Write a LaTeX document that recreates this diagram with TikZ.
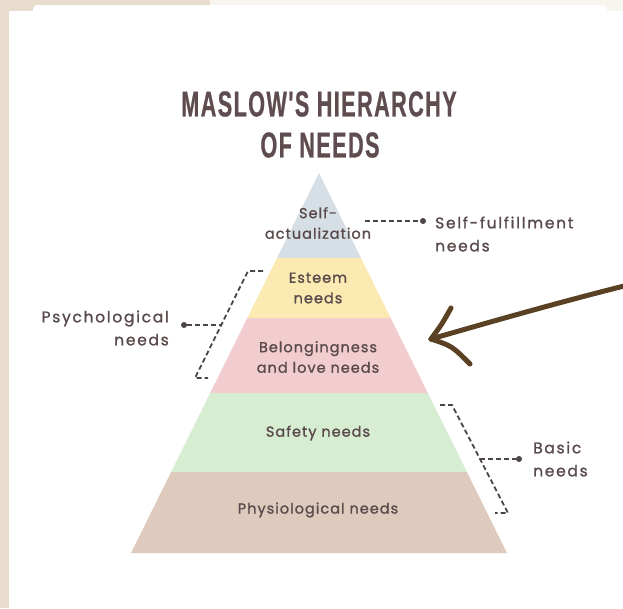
\documentclass[tikz,border=0pt]{standalone}
\usepackage{fontspec}
\usepackage{xcolor}
\usepackage{tikz}
\usetikzlibrary{arrows, arrows.meta}

\newfontfamily\titlefont[FakeStretch=0.6,LetterSpace=4,FakeBold=0.6]{Liberation Sans}
\newfontfamily\handfont[LetterSpace=7,FakeBold=1.2]{Poppins}
\newfontfamily\sidefont[LetterSpace=11,FakeBold=1.2]{Poppins}

\definecolor{bgbeige}{HTML}{E8DCCD}
\definecolor{bgcream}{HTML}{F8F4EE}
\definecolor{titlebrown}{HTML}{5E4C4F}
\definecolor{inkgrey}{HTML}{5A4A4B}
\definecolor{guidegrey}{HTML}{4D4446}
\definecolor{arrowbrown}{HTML}{5A4124}
\definecolor{topblue}{HTML}{D6DFE5}
\definecolor{esteemyellow}{HTML}{FBEAB2}
\definecolor{lovepink}{HTML}{F2CDD0}
\definecolor{safetygreen}{HTML}{D6EDD1}
\definecolor{physiotan}{HTML}{DECBBE}

\tikzset{
  titletext/.style={text=titlebrown, font=\titlefont\bfseries\fontsize{36}{40}\selectfont, inner sep=0pt},
  layertext/.style={text=inkgrey, font=\handfont\fontsize{14.5}{20.5}\selectfont, align=center, inner sep=0pt},
  sidetext/.style={text=inkgrey, font=\sidefont\fontsize{15.5}{23}\selectfont, inner sep=0pt},
  guide/.style={guidegrey, line width=1.8pt, dash pattern=on 5pt off 3pt},
  dot/.style={circle, fill=guidegrey, inner sep=0pt, minimum size=6pt},
  brush/.style={arrowbrown, line width=5pt, line cap=round, line join=round}
}

\begin{document}
\begin{tikzpicture}[x=1pt,y=-1pt]
\useasboundingbox (0,0) rectangle (623,608);
% background card
\fill[bgbeige] (0,0) rectangle (623,608);
\fill[bgcream] (210,0) rectangle (623,11);
\fill[white] (9,11) rectangle (623,608);
\fill[white,rounded corners=4pt] (33,5) rectangle (607,30);

% pyramid layers
\fill[topblue] (319,173) -- (361,258) -- (277,258) -- cycle;
\fill[esteemyellow] (277,258) -- (361,258) -- (390.7,318) -- (247.3,318) -- cycle;
\fill[lovepink] (247.3,318) -- (390.7,318) -- (427.8,393) -- (210.2,393) -- cycle;
\fill[safetygreen] (210.2,393) -- (427.8,393) -- (466.9,472) -- (171.1,472) -- cycle;
\fill[physiotan] (171.1,472) -- (466.9,472) -- (507,553) -- (131,553) -- cycle;

% title
\node[titletext] (titleA) at (319,104) {MASLOW'S HIERARCHY};
\node[titletext] (titleB) at (320,145) {OF NEEDS};

% layer labels
\node[layertext] (selfact) at (318,223) {Self-\\actualization};
\node[layertext] (esteem) at (318,288) {Esteem\\needs};
\node[layertext] (belong) at (318,357) {Belongingness\\and love needs};
\node[layertext] (safety) at (318,433) {Safety needs};
\node[layertext] (physio) at (318,510) {Physiological needs};

% side labels
\node[sidetext,anchor=west,align=left] (fulfil) at (435,234) {Self-fulfillment\\needs};
\node[sidetext,anchor=east,align=right] (psych) at (169,328) {Psychological\\needs};
\node[sidetext,anchor=west,align=left] (basic) at (533,459) {Basic\\needs};

% self-fulfillment pointer
\coordinate (fulfilstart) at (365,221);
\node[dot] (fulfildot) at (423,221) {};
\draw[guide] (fulfilstart) -- (fulfildot);

% psychological bracket
\coordinate (psychtop) at (248,271);
\coordinate (psychtophook) at (263,271);
\coordinate (psychbot) at (195,378);
\coordinate (psychbothook) at (208,378);
\coordinate (psychmid) at (221.5,325);
\node[dot] (psychdot) at (184,325) {};
\draw[guide] (psychtophook) -- (psychtop) -- (psychbot) -- (psychbothook);
\draw[guide] (psychdot) -- (psychmid);

% basic bracket
\coordinate (basictop) at (452,405);
\coordinate (basictophook) at (440,405);
\coordinate (basicbot) at (508,513);
\coordinate (basicbothook) at (495,513);
\coordinate (basicmid) at (480,459);
\node[dot] (basicdot) at (519,459) {};
\draw[guide] (basictophook) -- (basictop) -- (basicbot) -- (basicbothook);
\draw[guide] (basicmid) -- (basicdot);

% hand drawn arrow
\coordinate (arrowtail) at (628,285);
\coordinate (arrowtip) at (431,339);
\coordinate (barbup) at (451,308);
\coordinate (barbdown) at (470,364);
\draw[brush] (arrowtail) .. controls (560,302) and (490,322) .. (arrowtip);
\draw[brush] (arrowtip) .. controls (442,324) .. (barbup);
\draw[brush] (arrowtip) .. controls (452,346) .. (barbdown);
\end{tikzpicture}
\end{document}
